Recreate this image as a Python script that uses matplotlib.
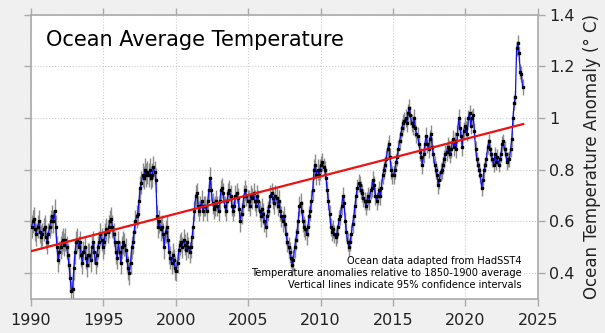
import numpy as np
import matplotlib
matplotlib.use("Agg")
import matplotlib.pyplot as plt

# monthly ocean anomaly (deg C, vs 1850-1900), Jan 1990 .. Dec 2023
anomaly = [
    0.58, 0.60, 0.61, 0.57, 0.55, 0.58, 0.60, 0.56, 0.54, 0.55, 0.57, 0.58,  # 1990
    0.54, 0.52, 0.55, 0.58, 0.60, 0.62, 0.60, 0.64, 0.58, 0.50, 0.45, 0.48,  # 1991
    0.50, 0.52, 0.53, 0.51, 0.53, 0.50, 0.47, 0.43, 0.38, 0.33, 0.34, 0.42,  # 1992
    0.48, 0.52, 0.53, 0.50, 0.52, 0.47, 0.44, 0.48, 0.50, 0.46, 0.43, 0.47,  # 1993
    0.47, 0.45, 0.50, 0.52, 0.48, 0.44, 0.47, 0.50, 0.52, 0.55, 0.53, 0.50,  # 1994
    0.52, 0.55, 0.57, 0.56, 0.58, 0.60, 0.61, 0.58, 0.55, 0.52, 0.48, 0.46,  # 1995
    0.52, 0.48, 0.44, 0.50, 0.52, 0.51, 0.49, 0.45, 0.42, 0.40, 0.44, 0.50,  # 1996
    0.52, 0.56, 0.60, 0.62, 0.63, 0.68, 0.73, 0.75, 0.78, 0.77, 0.80, 0.78,  # 1997
    0.79, 0.78, 0.80, 0.77, 0.78, 0.81, 0.79, 0.76, 0.62, 0.58, 0.60, 0.57,  # 1998
    0.58, 0.55, 0.50, 0.56, 0.58, 0.53, 0.48, 0.46, 0.44, 0.47, 0.45, 0.42,  # 1999
    0.41, 0.44, 0.49, 0.51, 0.52, 0.50, 0.53, 0.51, 0.49, 0.52, 0.50, 0.48,  # 2000
    0.50, 0.54, 0.58, 0.64, 0.70, 0.71, 0.66, 0.64, 0.66, 0.68, 0.64, 0.66,  # 2001
    0.66, 0.64, 0.68, 0.72, 0.77, 0.72, 0.67, 0.65, 0.66, 0.68, 0.66, 0.64,  # 2002
    0.68, 0.72, 0.73, 0.71, 0.66, 0.64, 0.68, 0.71, 0.72, 0.70, 0.66, 0.64,  # 2003
    0.66, 0.70, 0.71, 0.69, 0.65, 0.60, 0.63, 0.66, 0.70, 0.72, 0.70, 0.68,  # 2004
    0.68, 0.66, 0.70, 0.69, 0.71, 0.68, 0.66, 0.70, 0.68, 0.64, 0.62, 0.65,  # 2005
    0.63, 0.60, 0.58, 0.62, 0.64, 0.66, 0.70, 0.71, 0.69, 0.67, 0.70, 0.69,  # 2006
    0.66, 0.68, 0.64, 0.62, 0.60, 0.62, 0.59, 0.55, 0.52, 0.50, 0.48, 0.46,  # 2007
    0.43, 0.45, 0.50, 0.53, 0.56, 0.60, 0.66, 0.67, 0.64, 0.60, 0.58, 0.57,  # 2008
    0.55, 0.58, 0.62, 0.64, 0.68, 0.72, 0.80, 0.82, 0.78, 0.80, 0.78, 0.80,  # 2009
    0.82, 0.83, 0.81, 0.80, 0.77, 0.72, 0.68, 0.63, 0.58, 0.56, 0.57, 0.55,  # 2010
    0.54, 0.55, 0.58, 0.61, 0.62, 0.66, 0.70, 0.67, 0.60, 0.56, 0.52, 0.50,  # 2011
    0.52, 0.55, 0.59, 0.62, 0.66, 0.70, 0.73, 0.75, 0.74, 0.72, 0.71, 0.69,  # 2012
    0.68, 0.66, 0.68, 0.70, 0.68, 0.72, 0.73, 0.76, 0.74, 0.70, 0.68, 0.70,  # 2013
    0.72, 0.70, 0.73, 0.78, 0.80, 0.82, 0.84, 0.88, 0.90, 0.85, 0.80, 0.78,  # 2014
    0.78, 0.80, 0.83, 0.85, 0.88, 0.91, 0.94, 0.96, 0.98, 0.99, 1.00, 0.98,  # 2015
    1.02, 1.04, 1.01, 0.98, 0.97, 1.00, 0.96, 0.94, 0.93, 0.90, 0.87, 0.85,  # 2016
    0.82, 0.86, 0.90, 0.93, 0.90, 0.88, 0.92, 0.94, 0.89, 0.86, 0.82, 0.80,  # 2017
    0.78, 0.74, 0.76, 0.79, 0.80, 0.82, 0.84, 0.86, 0.87, 0.89, 0.88, 0.86,  # 2018
    0.88, 0.92, 0.89, 0.91, 0.88, 0.94, 1.00, 0.96, 0.93, 0.89, 0.95, 0.97,  # 2019
    0.96, 0.94, 1.00, 1.02, 0.97, 1.00, 1.01, 0.95, 0.88, 0.84, 0.82, 0.80,  # 2020
    0.78, 0.73, 0.76, 0.80, 0.82, 0.84, 0.89, 0.91, 0.88, 0.86, 0.84, 0.82,  # 2021
    0.86, 0.83, 0.85, 0.82, 0.84, 0.86, 0.90, 0.91, 0.88, 0.86, 0.83, 0.84,  # 2022
    0.84, 0.88, 0.92, 1.00, 1.06, 1.08, 1.27, 1.29, 1.25, 1.18, 1.17, 1.12,  # 2023
]
start_year = 1990

# half width of the 95% interval, one value per year
uncert_year = [0.045] * 10 + [0.04] * 10 + [0.035] * 10 + [0.03] * 4

# linear trend end points
trend_years = [1990, 2024]
trend_vals = [0.485, 0.977]

notes = ["Ocean data adapted from HadSST4",
         "Temperature anomalies relative to 1850-1900 average",
         "Vertical lines indicate 95% confidence intervals"]

anomaly = np.array(anomaly)
t = start_year + (np.arange(len(anomaly)) + 0.5) / 12.0
err = np.repeat(uncert_year, 12)[:len(anomaly)]

fig = plt.figure(figsize=(6.05, 3.33), dpi=100, facecolor="#f0f0f0")
ax = fig.add_axes([0.0512, 0.1021, 0.8376, 0.8538])
ax.set_facecolor("white")

ax.errorbar(t, anomaly, yerr=err, fmt="none", ecolor="#8c8c8c", elinewidth=1.0, zorder=2)
ax.plot(t, anomaly, color="#1010ee", lw=0.9, zorder=3)
ax.plot(t, anomaly, ls="none", marker="s", ms=1.6, color="black", zorder=4)
ax.plot(trend_years, trend_vals, color="#ee1111", lw=1.6, zorder=5)

ax.set_xlim(1990, 2025)
ax.set_ylim(0.3, 1.4)
ax.set_xticks(range(1990, 2026, 5))
ax.set_yticks([0.4, 0.6, 0.8, 1.0, 1.2, 1.4])
ax.set_yticklabels(["0.4", "0.6", "0.8", "1", "1.2", "1.4"])
ax.grid(True, color="#cccccc", ls=":", lw=0.8)

for s in ax.spines.values():
    s.set_color("#aaaaaa")
    s.set_linewidth(1.2)
ax.tick_params(which="both", direction="out", length=5, color="#aaaaaa", width=1,
               top=True, right=True, left=True, bottom=True,
               labelleft=False, labelright=True, labelsize=11.5, labelcolor="#222222")
ax.tick_params(axis="x", pad=5)
ax.tick_params(axis="y", pad=3)
ax.yaxis.set_label_position("right")
ax.set_ylabel("Ocean Temperature Anomaly (° C)", fontsize=12, color="#222222", labelpad=6)

ax.text(0.03, 0.91, "Ocean Average Temperature", transform=ax.transAxes,
        fontsize=15, color="black", va="center", ha="left")

for i, line in enumerate(notes):
    ax.text(0.969, 0.135 - i * 0.0435, line, transform=ax.transAxes,
            fontsize=7.1, color="black", ha="right", va="center")

fig.savefig("out.png", dpi=100, facecolor=fig.get_facecolor())
